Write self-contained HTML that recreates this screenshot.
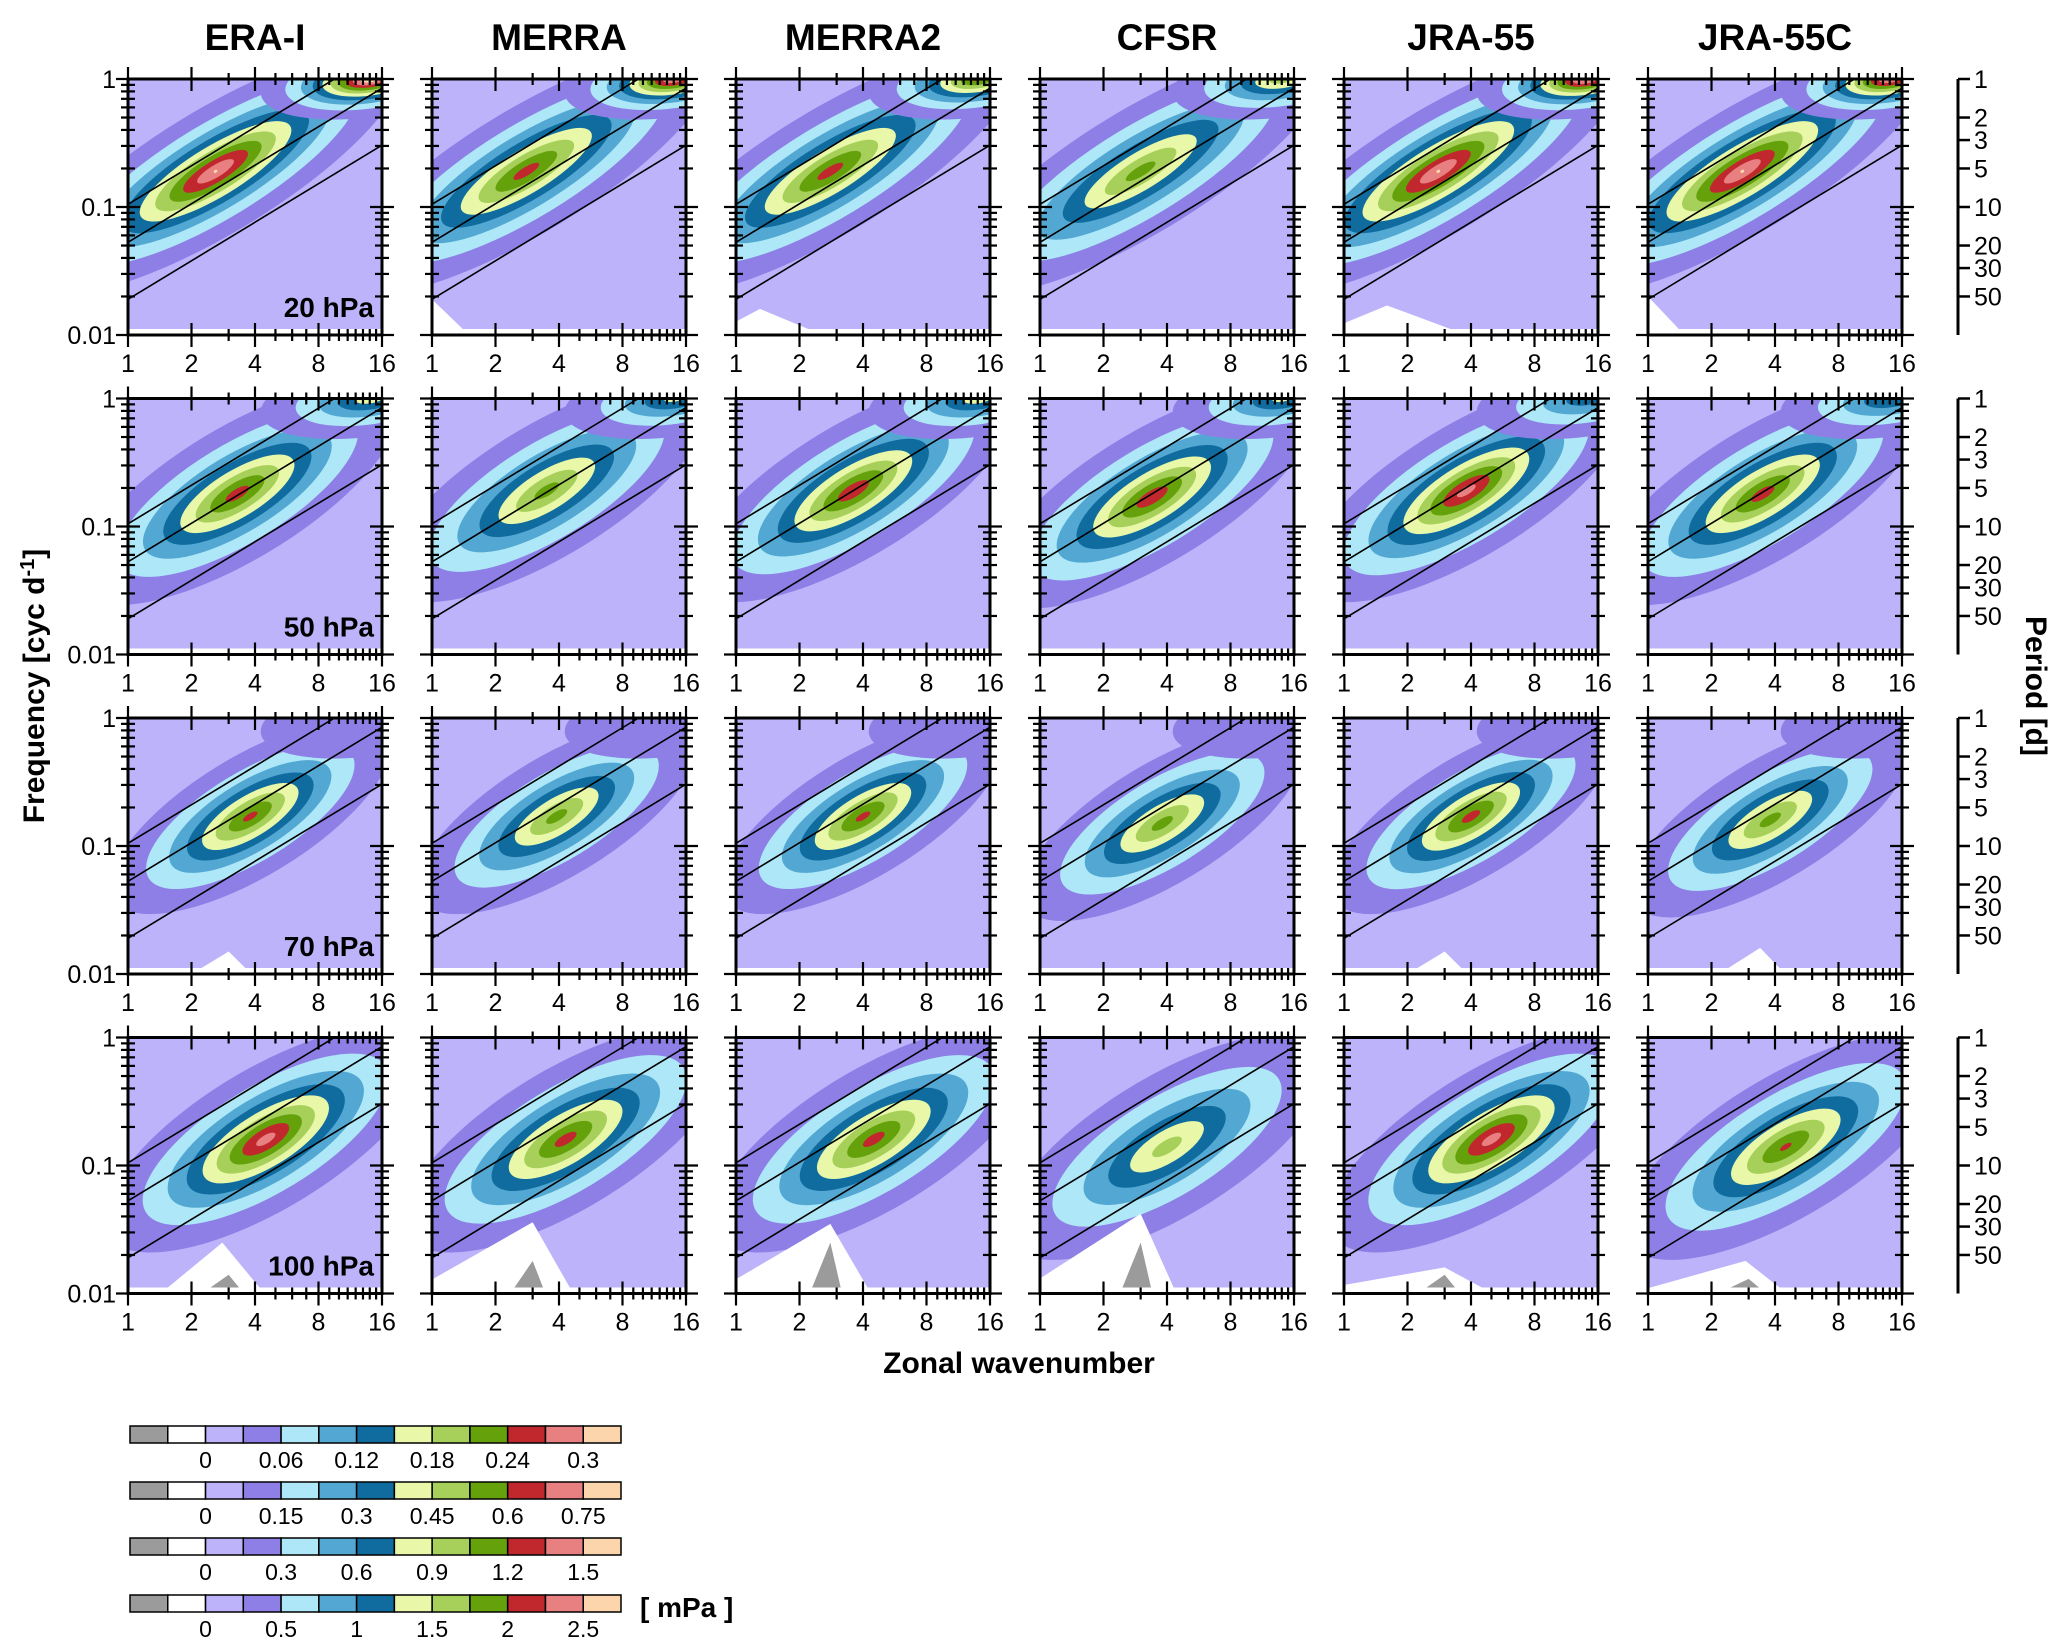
<!DOCTYPE html>
<html><head><meta charset="utf-8"><style>
html,body{margin:0;padding:0;background:#fff;}
svg{display:block;font-family:"Liberation Sans",sans-serif;}
</style></head><body>
<svg id="fig" width="2067" height="1649" viewBox="0 0 2067 1649" xmlns="http://www.w3.org/2000/svg"></svg>
<script>
// ---- data ----
const datasets = ["ERA-I","MERRA","MERRA2","CFSR","JRA-55","JRA-55C"];
const levels = ["20 hPa","50 hPa","70 hPa","100 hPa"];
const stepSize = [0.03, 0.075, 0.15, 0.25];
const peakValue = [
  [0.30, 0.255, 0.255, 0.225, 0.30, 0.30],
  [0.64, 0.56, 0.66, 0.66, 0.71, 0.64],
  [1.25, 1.12, 1.25, 1.12, 1.27, 1.12],
  [2.37, 2.12, 2.12, 1.62, 2.37, 2.05]
];
const peakWavenumber = [
  [2.6, 2.8, 2.8, 3.0, 2.8, 2.8],
  [3.3, 3.5, 3.6, 3.4, 3.8, 3.5],
  [3.8, 3.9, 4.0, 3.8, 4.0, 3.8],
  [4.5, 4.3, 4.5, 4.0, 5.0, 4.5]
];
const peakFrequency = [
  [0.19, 0.19, 0.19, 0.19, 0.19, 0.19],
  [0.18, 0.19, 0.19, 0.17, 0.19, 0.18],
  [0.17, 0.17, 0.17, 0.15, 0.17, 0.16],
  [0.16, 0.16, 0.16, 0.14, 0.16, 0.14]
];
const topPeakValue = [
  [0.33, 0.30, 0.25, 0.20, 0.31, 0.30],
  [0.42, 0.40, 0.42, 0.40, 0.35, 0.38],
  [0.2, 0.2, 0.2, 0.2, 0.2, 0.2],
  [0.3, 0.3, 0.3, 0.3, 0.3, 0.3]
];
const lineCoef = [0.105, 0.053, 0.019];
// white mounds: [row, col, kLeft, kPeak, kRight, fPeak]
const whiteMounds = [
  [0,1,1,1,1.4,0.019],[0,2,1,1.3,2.2,0.016],[0,4,1,1.6,3.2,0.017],[0,5,1,1,1.4,0.02],
  [2,0,2.6,3,3.6,0.015],[2,4,2.6,3,3.6,0.015],[2,5,2.8,3.4,4.2,0.016],
  [3,0,1.8,2.8,4.2,0.025],[3,1,1,3.0,4.5,0.036],[3,2,1,2.8,4.2,0.035],
  [3,3,1,3.0,4.3,0.042],[3,4,1,3.0,4.5,0.016],[3,5,1.2,2.9,4.2,0.018]
];
// gray triangles at 100 hPa
const grayK = [3.0, 3.0, 2.8, 3.0, 3.0, 3.0];
const grayTop = [0.014, 0.018, 0.025, 0.025, 0.014, 0.013];
const periodTicks = [1,2,3,5,10,20,30,50];
const xTicks = [1,2,4,8,16];
const cbarLabels = [
  ["0","0.06","0.12","0.18","0.24","0.3"],
  ["0","0.15","0.3","0.45","0.6","0.75"],
  ["0","0.3","0.6","0.9","1.2","1.5"],
  ["0","0.5","1","1.5","2","2.5"]
];
const colors = ['#9b9b9b','#ffffff','#bdb3fb','#8e7fe6','#aee8f8','#53a8d3','#106c9f','#e8f8a8','#a6d05a','#64a10a','#c0282e','#e87f80','#fcd5ac'];

// ---- layout ----
const L0=128, W=254, DX=304, T0=79, H=256, DY=319.5;
const NS="http://www.w3.org/2000/svg";
const svg=document.getElementById('fig');
function el(tag,attrs,parent){const e=document.createElementNS(NS,tag);for(const k in attrs)e.setAttribute(k,attrs[k]);(parent||svg).appendChild(e);return e;}
function xpix(k,c){return L0+c*DX+W*Math.log2(k)/4;}
function ypix(f,r){return T0+r*DY+H*(-Math.log10(f))/2;}
const angle=Math.atan2(-H*Math.log10(2)/2, W/4)*180/Math.PI;
const rowAlong=[215,185,160,185], rowAcross=[62,66,60,70];

datasets.forEach((d,c)=>{
  const t=el('text',{x:L0+c*DX+W/2,y:50,'text-anchor':'middle','font-size':37,'font-weight':'bold'});
  t.textContent=d;
  
  
});

for(let r=0;r<4;r++){
  for(let c=0;c<6;c++){
    const g=el('g',{});
    
    
    const L=L0+c*DX, T=T0+r*DY;
    const cid='clip'+r+'_'+c;
    const cp=el('clipPath',{id:cid},g); el('rect',{x:L,y:T,width:W,height:H},cp);
    const pg=el('g',{'clip-path':'url(#'+cid+')'},g);
    el('rect',{x:L,y:T,width:W,height:H,fill:'#fff'},pg);
    el('rect',{x:L,y:T,width:W,height:H-6,fill:colors[2]},pg);
    const step=stepSize[r];
    const drawBlob=(peak,cx,cy,A,B,rot)=>{
      const nmax=Math.floor(peak);
      for(let n=1;n<=Math.min(nmax,10);n++){
        const s=Math.pow(Math.log(peak/n)/Math.log(peak),0.75);
        const e=el('ellipse',{cx:cx,cy:cy,rx:Math.max(A*s,2),ry:Math.max(B*s,1.5),fill:colors[2+n],transform:'rotate('+rot+' '+cx+' '+cy+')'},pg);
        
        
      }
    };
    const pk=peakValue[r][c]/step;
    drawBlob(pk,xpix(peakWavenumber[r][c],c),ypix(peakFrequency[r][c],r),rowAlong[r],rowAcross[r],angle);
    const tp=topPeakValue[r][c]/step;
    if(tp>1.2){drawBlob(tp,xpix(14,c),ypix(1.0,r),110,38,-8);}
    whiteMounds.filter(m=>m[0]===r&&m[1]===c).forEach(m=>{
      const p=el('polygon',{points:(xpix(m[2],c)-14)+','+(T+H-6)+' '+xpix(m[3],c)+','+ypix(m[5],r)+' '+xpix(m[4],c)+','+(T+H-6),fill:'#fff'},pg);
      
      
    });
    if(r===3){
      const gk=grayK[c], gt=grayTop[c];
      const p=el('polygon',{points:(xpix(gk*0.82,c))+','+(T+H-6)+' '+xpix(gk,c)+','+ypix(gt,r)+' '+xpix(gk*1.12,c)+','+(T+H-6),fill:colors[0]},pg);
      
      
    }
    lineCoef.forEach(cf=>{
      const ln=el('line',{x1:xpix(1,c),y1:ypix(cf,r),x2:xpix(16,c),y2:ypix(cf*16,r),stroke:'#000','stroke-width':1.6},pg);
      
      
    });
    el('rect',{x:L,y:T,width:W,height:H,fill:'none',stroke:'#000','stroke-width':3},g);
    for(let k=1;k<=16;k++){
      const x=xpix(k,c), major=xTicks.includes(k), len=major?12:6;
      el('line',{x1:x,y1:T-len,x2:x,y2:T+len,stroke:'#000','stroke-width':2.2},g);
      el('line',{x1:x,y1:T+H-len,x2:x,y2:T+H+len,stroke:'#000','stroke-width':2.2},g);
      if(major){const t=el('text',{x:x,y:T+H+37,'text-anchor':'middle','font-size':25},g);t.textContent=k;}
    }
    [0.01,0.1,1].forEach(dec=>{for(let m=1;m<=9;m++){const f=dec*m; if(f>1.0001)break; const y=ypix(f,r), major=m===1, len=major?12:7;
      el('line',{x1:L-len,y1:y,x2:L+len,y2:y,stroke:'#000','stroke-width':2.2},g);
      el('line',{x1:L+W-len,y1:y,x2:L+W+len,y2:y,stroke:'#000','stroke-width':2.2},g);
      if(major&&c===0){const t=el('text',{x:L-12,y:y+9,'text-anchor':'end','font-size':25},g);t.textContent=(f===1?'1':f===0.1?'0.1':'0.01');}
    }});
    if(c===0){const t=el('text',{x:L+W-8,y:T+H-18,'text-anchor':'end','font-size':28,'font-weight':'bold'},g);t.textContent=levels[r];
      }
  }
  const T=T0+r*DY, ax=1958;
  const pa=el('g',{});
  
  
  el('line',{x1:ax,y1:T,x2:ax,y2:T+H,stroke:'#000','stroke-width':3},pa);
  periodTicks.forEach(p=>{const y=ypix(1/p,r);el('line',{x1:ax,y1:y,x2:ax+12,y2:y,stroke:'#000','stroke-width':2.5},pa);
    const t=el('text',{x:ax+16,y:y+9,'font-size':25},pa);t.textContent=p;});
}
let t=el('text',{x:0,y:0,'text-anchor':'middle','font-size':30,'font-weight':'bold',transform:'translate(44,686) rotate(-90)'});
t.innerHTML='Frequency [cyc d<tspan dy="-10" font-size="20">-1</tspan><tspan dy="10">]</tspan>';

t=el('text',{x:0,y:0,'text-anchor':'middle','font-size':30,'font-weight':'bold',transform:'translate(2026,686) rotate(90)'});
t.textContent='Period [d]';

t=el('text',{x:1019,y:1373,'text-anchor':'middle','font-size':30,'font-weight':'bold'});
t.textContent='Zonal wavenumber';

// colorbars
const cbY=[1426,1482,1538,1595], cbX=130, bw=(621-130)/13, bh=17;
cbarLabels.forEach((labs,i)=>{
  const g=el('g',{});
  
  
  colors.forEach((col,j)=>{el('rect',{x:cbX+j*bw,y:cbY[i],width:bw,height:bh,fill:col,stroke:'#000','stroke-width':1.5},g);});
  labs.forEach((lb,j)=>{const tt=el('text',{x:cbX+(2+2*j)*bw,y:cbY[i]+42,'text-anchor':'middle','font-size':23},g);tt.textContent=lb;});
});
t=el('text',{x:640,y:1617,'font-size':28,'font-weight':'bold'});
t.textContent='[ mPa ]';

</script>
</body></html>
